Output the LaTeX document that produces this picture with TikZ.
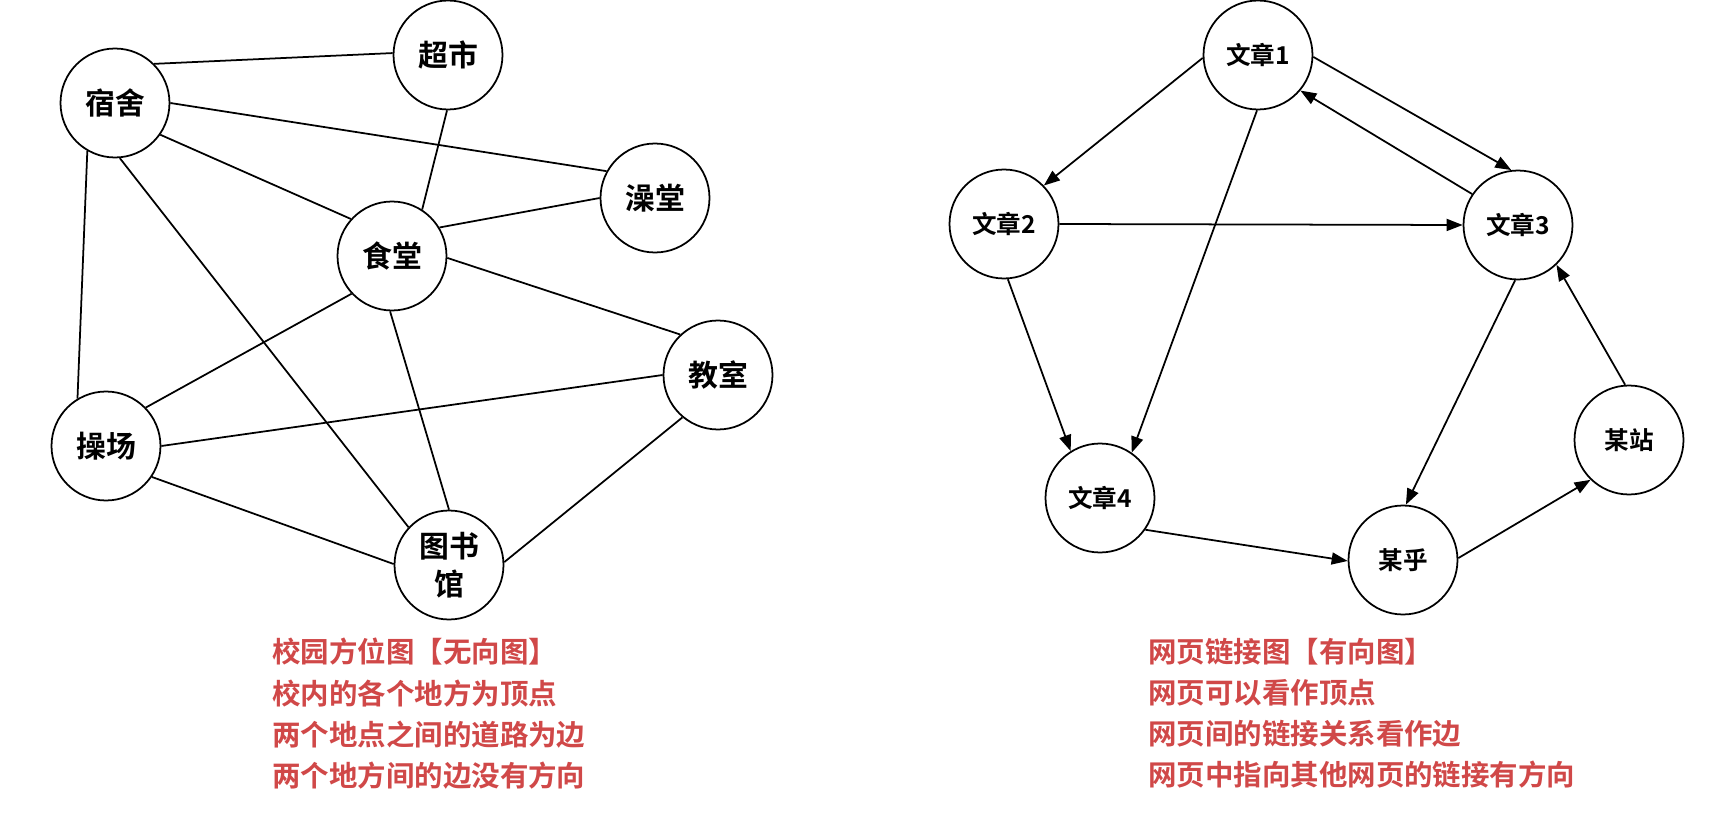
\documentclass[tikz,border=0pt]{standalone}
\usepackage{fontspec}
\newfontfamily\cjk{Noto Sans CJK SC}[BoldFont={Noto Sans CJK SC Bold}]
\usepackage{tikz}
\usetikzlibrary{arrows.meta}
\definecolor{notered}{RGB}{208,72,72}
\tikzset{
  place/.style={circle,draw,line width=1pt,minimum size=2.18cm,inner sep=1pt,align=center,
    font=\cjk\bfseries\fontsize{17}{21.5}\selectfont},
  webpage/.style={place,font=\cjk\bfseries\fontsize{14}{17}\selectfont},
  every edge/.style={draw,line width=1pt},
  link/.style={-{Triangle[length=3.2mm,width=2.4mm]}},
  note/.style={anchor=north west,align=left,inner sep=0pt,text=notered,
    font=\cjk\bfseries\fontsize{16.2}{23.4}\selectfont},
}
\begin{document}
\begin{tikzpicture}[x=0.02cm,y=-0.02cm]
\useasboundingbox (0,0) rectangle (1721,821);

% campus map, no directions
\node[place] (dorm) at (115,103) {宿舍};
\node[place] (market) at (448,55) {超市};
\node[place] (bath) at (655,198) {澡堂};
\node[place] (canteen) at (392,256) {食堂};
\node[place] (classroom) at (718,375) {教室};
\node[place] (field) at (106,446) {操场};
\node[place] (library) at (449,565) {图书\\馆};

\path
(dorm.45) edge (market.178)
(dorm.0) edge (bath.151)
(dorm.-35) edge (canteen.138)
(dorm.240) edge (field.121)
(dorm.275) edge (library.137)
(market.269) edge (canteen.57)
(bath.180) edge (canteen.31)
(canteen.-2) edge (classroom.133)
(canteen.223) edge (field.44)
(canteen.268) edge (library.90)
(field.0) edge (classroom.180)
(field.326) edge (library.179)
(classroom.230) edge (library.3);

% web links, directed
\node[webpage] (art1) at (1258,55) {文章1};
\node[webpage] (art2) at (1004,224) {文章2};
\node[webpage] (art3) at (1518,225) {文章3};
\node[webpage] (art4) at (1100,498) {文章4};
\node[webpage] (mhu) at (1403,560) {某乎};
\node[webpage] (mzhan) at (1629,440) {某站};

\path[link]
(art1.183) edge (art2.44)
(art1.358) edge (art3.97)
(art3.146) edge (art1.320)
(art1.269) edge (art4.55)
(art2.0) edge (art3.180)
(art2.274) edge (art4.122)
(art3.267) edge (mhu.87)
(art4.325) edge (mhu.181)
(mhu.2) edge (mzhan.226)
(mzhan.94) edge (art3.314);

\node[note] (capcampus) at (272,638) {校园方位图【无向图】\\校内的各个地方为顶点\\两个地点之间的道路为边\\两个地方间的边没有方向};
\node[note] (capweb) at (1148,638) {网页链接图【有向图】\\网页可以看作顶点\\网页间的链接关系看作边\\网页中指向其他网页的链接有方向};

\end{tikzpicture}
\end{document}
